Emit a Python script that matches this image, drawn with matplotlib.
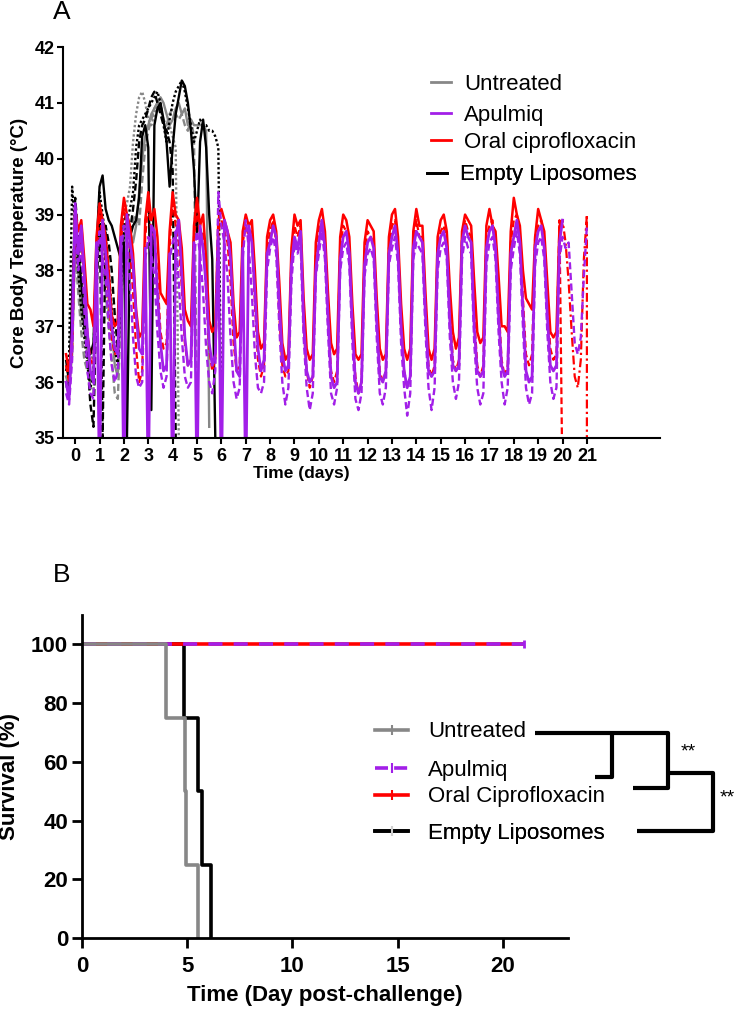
import numpy as np
import matplotlib
matplotlib.use("Agg")
import matplotlib.pyplot as plt
from matplotlib.lines import Line2D

plt.rcParams['font.family'] = ['Liberation Sans', 'DejaVu Sans']

# ---------------- Panel A data: core body temperature (°C) ----------------
# one reading every 3 h, first reading at day -0.375
t_start = -0.375
t_step = 0.125

untreated_a = [36.1, 35.9, 36.5,
               38.6, 38.0, 37.2, 37.0, 36.6, 36.0, 36.2, 38.2,
               38.6, 38.9, 38.3, 37.8, 37.0, 36.3, 36.1, 37.5,
               38.6, 38.9, 38.7, 38.5, 38.8, 39.4, 40.0, 40.4,
               40.6, 40.8, 40.9, 41.0, 41.1, 41.0, 40.8, 40.6,
               40.7, 40.9, 41.0, 40.8, 40.9, 40.6, 40.7, 40.6,
               40.6, 40.6, 40.6, 40.5, 35.2]
untreated_b = [36.3, 36.0, 36.8,
               38.4, 37.6, 36.9, 36.4, 36.2, 35.9, 35.8, 37.9,
               38.7, 38.2, 37.6, 37.0, 36.4, 35.8, 35.7, 37.2,
               38.4, 38.8, 38.6, 38.9, 39.0, 38.8, 39.6, 40.2,
               40.5, 40.7, 40.9, 41.0, 40.9, 40.7, 40.6, 40.8,
               40.9, 40.8, 40.7, 40.8, 40.6, 40.5, 40.7, 40.4,
               35.2]
untreated_c = [35.9, 36.2, 37.0,
               38.9, 38.2, 37.5, 36.9, 36.5, 36.3, 36.6, 38.3,
               38.8, 38.5, 37.9, 37.2, 36.8, 36.5, 36.7, 38.0,
               39.0, 39.2, 39.5, 40.3, 40.8, 41.1, 41.2, 41.0,
               40.7, 40.6, 40.8, 41.0, 40.9, 40.7, 40.5, 40.6,
               40.4, 40.2, 35.0]

empty_a = [36.0, 35.8, 37.5,
           38.9, 38.3, 37.8, 37.2, 36.8, 36.5, 36.7, 38.4,
           39.5, 39.7, 39.1, 38.9, 38.8, 38.6, 38.4, 38.2,
           38.5, 35.0, 38.6, 38.8, 38.9, 39.3, 40.4, 40.6,
           40.2, 35.5, 40.6, 40.9, 41.0, 40.7, 40.3, 39.5,
           40.2, 40.8, 41.1, 41.4, 41.3, 41.0, 40.5, 39.8,
           38.6, 40.3, 40.7, 40.2, 39.0, 38.2, 35.0]
empty_b = [36.4, 36.0, 37.2,
           39.3, 38.6, 37.9, 37.0, 36.4, 35.6, 35.2, 37.5,
           39.2, 35.0, 38.8, 38.5, 38.0, 37.2, 36.6, 37.8,
           38.9, 39.0, 38.7, 39.1, 39.6, 40.3, 40.6, 40.7,
           40.9, 41.1, 41.2, 41.0, 40.8, 40.6, 40.5, 40.3,
           39.8, 35.0]
empty_c = [36.2, 36.5, 39.5,
           38.8, 38.0, 37.3, 36.8, 36.3, 35.9, 36.1, 38.0,
           39.4, 39.0, 38.6, 38.0, 37.3, 36.6, 36.3, 37.6,
           38.7, 38.9, 39.1, 39.4, 40.2, 40.6, 40.7, 40.8,
           40.9, 41.0, 41.1, 41.2, 41.0, 40.6, 40.3, 40.7,
           41.0, 41.2, 41.3, 41.4, 41.2, 40.9, 40.6, 40.3,
           40.5, 40.7, 40.6, 40.6, 40.5, 40.5, 40.4, 40.2,
           35.0]

apulmiq_a = [36.0, 35.7, 36.9,
             39.2, 38.3, 38.8, 37.9, 36.9, 36.2, 36.0, 38.5,
             34.0, 38.9, 38.3, 37.7, 37.0, 36.6, 36.5, 38.6,
             34.0, 39.0, 38.5, 38.1, 37.2, 36.6, 36.5, 38.4,
             34.0, 38.8, 38.7, 37.6, 36.7, 36.2, 36.3, 38.3,
             34.0, 38.6, 38.9, 37.9, 36.8, 36.3, 36.4, 38.5,
             34.0, 38.8, 38.4, 37.7, 36.7, 36.3, 36.5, 38.6,
             34.0, 38.9, 38.7, 38.2, 37.1, 36.2, 36.1, 38.4,
             34.0, 38.8, 38.5, 37.6, 36.6, 36.2, 36.4, 38.3,
             38.5, 38.8, 38.6, 37.4, 36.5, 36.2, 36.3, 38.1,
             38.6, 38.4, 38.7, 37.1, 36.2, 36.0, 36.1, 38.0,
             38.5, 38.9, 38.4, 37.2, 36.1, 35.9, 36.0, 38.2,
             38.6, 38.7, 38.3, 37.0, 36.0, 35.8, 36.0, 38.1,
             38.5, 38.6, 38.4, 37.1, 36.1, 36.0, 36.2, 38.3,
             38.6, 38.8, 38.3, 37.0, 36.2, 35.9, 36.1, 38.4,
             38.7, 38.6, 38.5, 37.2, 36.2, 36.1, 36.2, 38.3,
             38.6, 38.7, 38.4, 37.1, 36.3, 36.2, 36.3, 38.5,
             38.8, 38.6, 38.5, 37.0, 36.2, 36.1, 36.2, 38.4,
             38.7, 38.8, 38.4, 37.2, 36.3, 36.1, 36.2, 38.3,
             38.6, 38.9, 38.5, 37.3, 36.2, 36.0, 36.1, 38.4,
             38.7, 38.8, 38.4, 37.2, 36.3, 36.2, 36.3, 38.5,
             38.9]
apulmiq_b = [35.8, 35.6, 36.4,
             38.9, 38.0, 38.5, 37.3, 36.2, 35.8, 35.7, 38.1,
             38.7, 38.2, 37.9, 37.0, 36.3, 36.0, 36.2, 38.3,
             38.8, 38.6, 37.8, 36.8, 36.1, 35.9, 36.0, 38.2,
             38.6, 38.3, 37.9, 36.9, 36.2, 35.9, 36.1, 38.2,
             38.5, 38.7, 37.8, 36.8, 36.1, 35.9, 36.0, 38.3,
             38.7, 38.3, 37.6, 36.6, 36.0, 35.8, 36.2, 39.4,
             38.8, 38.5, 37.9, 36.8, 36.0, 35.7, 35.9, 38.2,
             38.9, 38.4, 37.6, 36.5, 35.9, 35.8, 36.0, 38.0,
             38.4, 38.6, 38.3, 37.0, 36.0, 35.6, 35.9, 37.8,
             38.5, 38.3, 38.5, 36.8, 35.9, 35.5, 35.8, 37.9,
             38.3, 38.7, 38.2, 36.9, 35.8, 35.6, 35.9, 38.0,
             38.4, 38.5, 38.1, 36.7, 35.7, 35.5, 35.8, 37.9,
             38.3, 38.4, 38.2, 36.8, 35.8, 35.6, 35.9, 38.1,
             38.4, 38.6, 38.1, 36.7, 35.9, 35.4, 35.8, 38.2,
             38.5, 38.4, 38.3, 36.9, 35.9, 35.5, 35.9, 38.0,
             38.4, 38.5, 38.2, 36.8, 36.0, 35.7, 36.0, 38.2,
             38.6, 38.4, 38.3, 36.7, 35.9, 35.6, 35.8, 38.1,
             38.5, 38.6, 38.2, 36.9, 36.0, 35.6, 35.9, 38.0,
             38.4, 38.7, 38.3, 37.0, 35.9, 35.6, 35.8, 38.1,
             38.5, 38.6, 38.2, 36.9, 36.0, 35.7, 35.9, 38.2,
             38.6, 38.4, 38.5, 37.6, 36.7, 36.5, 36.8, 37.9,
             38.8]

cipro_a = [36.5, 36.2, 36.8,
           39.1, 38.7, 38.9, 38.2, 37.4, 37.3, 37.0, 38.6,
           39.2, 38.9, 38.6, 38.0, 37.2, 37.0, 37.1, 38.8,
           39.3, 39.0, 38.8, 38.3, 37.3, 36.8, 36.9, 38.9,
           39.4, 38.9, 39.1, 38.6, 37.6, 37.5, 37.4, 38.7,
           39.4, 39.0, 38.9, 38.4, 37.3, 37.1, 37.0, 38.8,
           39.3, 38.8, 39.0, 38.2, 37.1, 36.9, 37.0, 38.9,
           39.1, 38.9, 38.7, 38.5, 37.4, 36.8, 36.9, 38.7,
           39.0, 38.8, 38.9, 38.0, 36.9, 36.6, 36.7, 38.6,
           38.9, 39.0, 38.7, 37.8, 36.7, 36.4, 36.5, 38.4,
           39.0, 38.8, 38.9, 37.5, 36.6, 36.4, 36.5, 38.5,
           38.9, 39.1, 38.7, 37.6, 36.7, 36.5, 36.6, 38.6,
           39.0, 38.9, 38.6, 37.4, 36.5, 36.4, 36.5, 38.5,
           38.9, 38.8, 38.7, 37.5, 36.6, 36.4, 36.5, 38.6,
           39.0, 39.1, 38.6, 37.4, 36.6, 36.4, 36.6, 38.7,
           39.1, 38.8, 38.8, 37.6, 36.6, 36.4, 36.6, 38.6,
           38.9, 39.0, 38.7, 37.7, 36.9, 36.6, 36.8, 38.7,
           39.0, 38.9, 38.8, 37.8, 36.9, 36.7, 36.8, 38.8,
           39.1, 38.8, 38.7, 37.9, 37.0, 37.0, 36.9, 38.7,
           39.3, 39.0, 38.8, 38.0, 37.5, 37.4, 37.3, 38.6,
           39.1, 38.9, 38.7, 37.8, 36.9, 36.8, 36.9, 38.8,
           38.8]
cipro_b = [36.3, 36.0, 36.6,
           38.9, 38.4, 38.6, 37.8, 36.9, 36.4, 36.3, 38.3,
           39.0, 38.6, 38.2, 37.5, 36.8, 36.5, 36.6, 38.5,
           39.1, 38.8, 38.4, 37.6, 36.6, 36.0, 36.2, 38.6,
           39.2, 38.7, 38.6, 37.9, 36.9, 36.6, 36.7, 38.4,
           39.3, 38.8, 38.5, 37.7, 36.7, 36.3, 36.4, 38.6,
           39.1, 38.6, 38.7, 37.6, 36.6, 36.2, 36.4, 38.7,
           38.9, 38.7, 38.5, 37.8, 36.7, 36.2, 36.3, 38.5,
           38.8, 38.6, 38.7, 37.4, 36.4, 36.1, 36.3, 38.4,
           38.7, 38.9, 38.5, 37.2, 36.3, 36.1, 36.2, 38.2,
           38.8, 38.6, 38.8, 37.0, 36.2, 35.9, 36.1, 38.3,
           38.7, 38.9, 38.5, 37.1, 36.2, 36.0, 36.2, 38.4,
           38.8, 38.7, 38.4, 37.0, 36.1, 35.8, 36.0, 38.3,
           38.7, 38.6, 38.5, 37.1, 36.2, 36.0, 36.2, 38.4,
           38.8, 38.9, 38.4, 37.0, 36.2, 35.9, 36.1, 38.5,
           38.9, 38.6, 38.6, 37.2, 36.3, 36.1, 36.3, 38.4,
           38.7, 38.8, 38.5, 37.3, 36.4, 36.2, 36.4, 38.6,
           38.9, 38.7, 38.6, 37.2, 36.3, 36.1, 36.3, 38.6,
           38.8, 38.9, 38.5, 37.4, 36.4, 36.1, 36.3, 38.5,
           38.9, 39.0, 38.6, 37.5, 36.5, 36.3, 36.5, 38.6,
           38.8, 38.9, 38.5, 37.4, 36.6, 36.4, 36.5, 38.9,
           34.0]
cipro_c_days = [19.875, 20.0, 20.125, 20.25, 20.375, 20.5, 20.625, 20.75,
                20.875, 21.0, 21.0]
cipro_c = [38.8, 38.9, 38.5, 37.8, 36.9, 36.1, 35.9, 36.4, 38.2, 39.0, 34.0]

temp_days = list(range(0, 22))
temp_groups = ['Untreated', 'Apulmiq', 'Oral ciprofloxacin', 'Empty Liposomes']

# ---------------- Panel B data: survival (%) ----------------
surv_days_untreated = [0, 4.0, 4.88, 4.95, 5.5]
surv_untreated = [100, 75, 50, 25, 0]
surv_days_empty = [0, 4.87, 5.5, 5.7, 6.13]
surv_empty = [100, 75, 50, 25, 0]
surv_days_treated = [0, 21]
surv_apulmiq = [100, 100]
surv_cipro = [100, 100]
surv_groups = ['Untreated', 'Apulmiq', 'Oral Ciprofloxacin', 'Empty Liposomes']

GRAY = '#878787'
PURPLE = '#A21FE8'
RED = '#FF0000'
BLACK = '#000000'


def days_for(vals):
    return t_start + t_step * np.arange(len(vals))


fig = plt.figure(figsize=(7.35, 10.1), dpi=100)

# ---------------- Panel A ----------------
ax1 = fig.add_axes([63 / 735, 1 - 438 / 1010, 597 / 735, 391 / 1010])

solid = '-'
dashed = (0, (3, 1.5))
dotted = (0, (1, 1))

for vals, ls in [(untreated_a, solid), (untreated_b, dashed), (untreated_c, dotted)]:
    ax1.plot(days_for(vals), vals, color=GRAY, lw=1.7, ls=ls)
for vals, ls in [(empty_a, solid), (empty_b, dashed), (empty_c, dotted)]:
    ax1.plot(days_for(vals), vals, color=BLACK, lw=1.7, ls=ls)
ax1.plot(days_for(cipro_b), cipro_b, color=RED, lw=1.6, ls=dashed)
ax1.plot(cipro_c_days, cipro_c, color=RED, lw=1.6, ls=(0, (4, 1.5, 1, 1.5)))
ax1.plot(days_for(cipro_a), cipro_a, color=RED, lw=1.8)
ax1.plot(days_for(apulmiq_b), apulmiq_b, color=PURPLE, lw=1.7, ls=dashed)
ax1.plot(days_for(apulmiq_a), apulmiq_a, color=PURPLE, lw=2.0)

ax1.set_xlim(-0.5, 24)
ax1.set_ylim(35, 42)
ax1.set_xticks(temp_days)
ax1.set_yticks(range(35, 43))
for s in ['top', 'right']:
    ax1.spines[s].set_visible(False)
for s in ['left', 'bottom']:
    ax1.spines[s].set_linewidth(1.5)
ax1.tick_params(direction='out', length=4, width=1.5, labelsize=13)
ax1.tick_params(axis='x', pad=3.5)
ax1.tick_params(axis='y', pad=2)
for lab in ax1.get_xticklabels() + ax1.get_yticklabels():
    lab.set_fontweight('bold')
ax1.set_xlabel('Time (days)', fontsize=12.5, fontweight='bold')
ax1.xaxis.set_label_coords(0.40, -0.072)
ax1.set_ylabel('Core Body Temperature (°C)', fontsize=13.5, fontweight='bold', labelpad=5)

top_colors = [GRAY, PURPLE, RED, BLACK]
top_rows = [0.905, 0.826, 0.757, 0.673]
top_x = [0.616, 0.616, 0.616, 0.609]
for name, col, yy, xx in zip(temp_groups, top_colors, top_rows, top_x):
    leg = ax1.legend([Line2D([], [], color=col, lw=2)], [name],
                     loc='center left', bbox_to_anchor=(xx, yy), frameon=False,
                     fontsize=16, handlelength=0.9, handletextpad=0.6,
                     borderpad=0, borderaxespad=0)
    ax1.add_artist(leg)

fig.text(53 / 735, 1 - 12 / 1010, 'A', fontsize=19, va='center', ha='left')

# ---------------- Panel B ----------------
ax2 = fig.add_axes([82 / 735, 1 - 938 / 1010, 486 / 735, 323 / 1010])

ax2.plot(surv_days_empty, surv_empty, color=BLACK, lw=2.6, drawstyle='steps-post')
ax2.plot(surv_days_treated, surv_cipro, color=RED, lw=2.6, solid_capstyle='butt')
ax2.plot(surv_days_treated, surv_apulmiq, color=PURPLE, lw=2.6, ls=(0, (3.9, 3.1)),
         marker='|', markevery=[-1], ms=6, mew=2)
ax2.plot(surv_days_untreated, surv_untreated, color=GRAY, lw=2.6, drawstyle='steps-post')

ax2.set_xlim(0, 23.1)
ax2.set_ylim(0, 110)
ax2.set_xticks([0, 5, 10, 15, 20])
ax2.set_yticks([0, 20, 40, 60, 80, 100])
for s in ['top', 'right']:
    ax2.spines[s].set_visible(False)
for s in ['left', 'bottom']:
    ax2.spines[s].set_linewidth(2)
ax2.tick_params(direction='out', length=7, width=2, labelsize=16)
ax2.tick_params(axis='x', pad=6)
ax2.tick_params(axis='y', pad=3)
for lab in ax2.get_xticklabels() + ax2.get_yticklabels():
    lab.set_fontweight('bold')
ax2.set_xlabel('Time (Day post-challenge)', fontsize=16, fontweight='bold', labelpad=6)
ax2.set_ylabel('Survival (%)', fontsize=16, fontweight='bold', labelpad=8)

bot_handles = [Line2D([], [], color=GRAY, lw=2.6, marker='|', ms=7, mew=1.5),
               Line2D([], [], color=PURPLE, lw=2.6, ls=(0, (3.6, 1.7)), marker='|', ms=7, mew=1.5),
               Line2D([], [], color=RED, lw=2.6, marker='|', ms=7, mew=1.5),
               Line2D([], [], color=BLACK, lw=2.6, marker='|', ms=7, mew=1.5, mec='#cfcfcf')]
bot_rows = [0.638, 0.520, 0.437, 0.325]
for h, name, yy in zip(bot_handles, surv_groups, bot_rows):
    leg = ax2.legend([h], [name], loc='center left', bbox_to_anchor=(0.603, yy),
                     frameon=False, fontsize=16, handlelength=1.5, handletextpad=0.9,
                     borderpad=0, borderaxespad=0)
    ax2.add_artist(leg)

# significance brackets (axes fraction coordinates)
bk = dict(color=BLACK, lw=3, transform=ax2.transAxes, clip_on=False, solid_capstyle='butt')
ax2.plot([0.932, 1.206, 1.206, 1.134], [0.635, 0.635, 0.464, 0.464], **bk)
ax2.plot([1.091, 1.091, 1.056], [0.635, 0.498, 0.498], **bk)
ax2.plot([1.206, 1.298, 1.298, 1.142], [0.511, 0.511, 0.331, 0.331], **bk)
ax2.text(1.247, 0.576, '**', transform=ax2.transAxes, fontsize=14, ha='center', va='center')
ax2.text(1.327, 0.433, '**', transform=ax2.transAxes, fontsize=14, ha='center', va='center')

fig.text(53 / 735, 1 - 575 / 1010, 'B', fontsize=19, va='center', ha='left')

fig.savefig('out.png', dpi=100)
